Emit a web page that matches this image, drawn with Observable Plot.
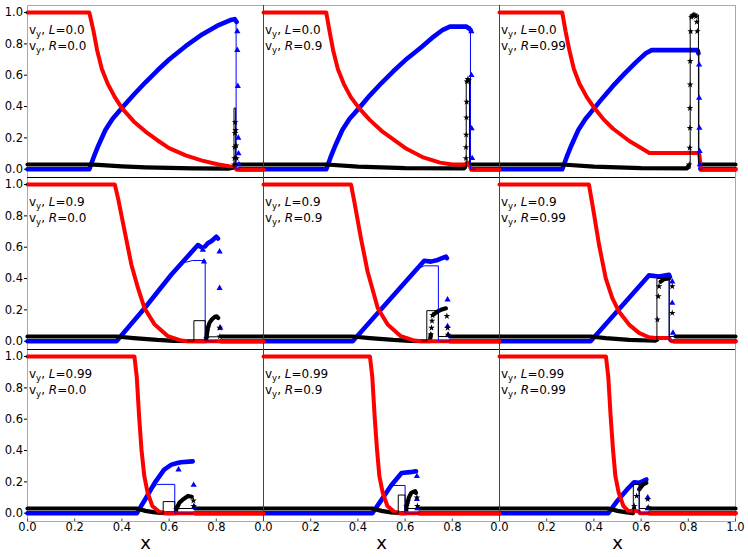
<!DOCTYPE html>
<html><head><meta charset="utf-8">
<script src="https://cdn.jsdelivr.net/npm/d3@7"></script>
<script src="https://cdn.jsdelivr.net/npm/@observablehq/plot@0.6"></script>
<style>body{margin:0;background:#fff}</style>
</head><body><div id="chart"></div>
<script>
// rows: left state v_y ; columns: right state v_y
const leftVy = ["0.0", "0.9", "0.99"];
const rightVy = ["0.0", "0.9", "0.99"];
const xTicks = [0, 0.2, 0.4, 0.6, 0.8, 1.0];
const yTicks = [0, 0.2, 0.4, 0.6, 0.8, 1.0];

// panel order: p = row*3 + col ; NaN breaks a line
const redCurve = [
  [[0,1],[0.262,1],[0.28,0.88],[0.295,0.76],[0.315,0.64],[0.34,0.545],[0.37,0.46],[0.40,0.39],[0.45,0.305],[0.50,0.24],[0.55,0.185],[0.60,0.135],[0.67,0.088],[0.74,0.055],[0.81,0.03],[0.865,0.016],[0.878,0.012],[0.886,-0.004],[1,-0.004]],
  [[0,1],[0.266,1],[0.28,0.88],[0.295,0.76],[0.315,0.64],[0.34,0.545],[0.37,0.46],[0.405,0.39],[0.45,0.315],[0.50,0.245],[0.55,0.19],[0.606,0.13],[0.677,0.075],[0.748,0.042],[0.80,0.03],[0.853,0.03],[0.865,0.042],[0.874,0.02],[0.881,-0.004],[1,-0.004]],
  [[0,1],[0.266,1],[0.28,0.88],[0.296,0.76],[0.315,0.64],[0.339,0.545],[0.37,0.46],[0.402,0.39],[0.44,0.32],[0.48,0.26],[0.55,0.18],[0.60,0.135],[0.635,0.104],[0.846,0.104],[0.85,0.05],[0.853,-0.004],[1,-0.004]],
  [[0,1],[0.37,1],[0.384,0.91],[0.412,0.70],[0.44,0.49],[0.468,0.34],[0.496,0.21],[0.539,0.106],[0.595,0.032],[0.652,0.004],[0.68,0],[1,0]],
  [[0,1],[0.371,1],[0.385,0.89],[0.413,0.657],[0.441,0.445],[0.484,0.212],[0.526,0.106],[0.582,0.032],[0.639,0.004],[0.667,0],[1,0]],
  [[0,1],[0.379,1],[0.394,0.87],[0.422,0.614],[0.45,0.403],[0.478,0.275],[0.506,0.19],[0.549,0.106],[0.591,0.053],[0.633,0.025],[0.66,0.021],[0.718,0.021],[0.725,0.005],[0.729,0],[1,0]],
  [[0,1],[0.453,1],[0.463,0.87],[0.473,0.616],[0.483,0.405],[0.495,0.236],[0.509,0.131],[0.529,0.046],[0.559,0.008],[0.59,0],[1,0]],
  [[0,1],[0.451,1],[0.461,0.87],[0.471,0.616],[0.481,0.405],[0.491,0.236],[0.505,0.131],[0.525,0.046],[0.555,0.008],[0.585,0],[1,0]],
  [[0,1],[0.451,1],[0.461,0.87],[0.471,0.616],[0.481,0.405],[0.491,0.236],[0.505,0.131],[0.525,0.046],[0.545,0.015],[0.59,0.012],[0.595,0],[1,0]]
];

const blueCurve = [
  [[0,0],[0.262,0],[0.28,0.075],[0.30,0.15],[0.33,0.25],[0.36,0.32],[0.40,0.39],[0.45,0.475],[0.50,0.555],[0.55,0.63],[0.60,0.70],[0.67,0.785],[0.74,0.86],[0.81,0.92],[0.86,0.952],[0.878,0.958],[0.886,0.94],[0.888,NaN],[0.897,0],[1,0]],
  [[0,0],[0.266,0],[0.284,0.075],[0.304,0.15],[0.334,0.25],[0.364,0.32],[0.405,0.39],[0.45,0.47],[0.50,0.55],[0.55,0.625],[0.60,0.695],[0.67,0.78],[0.72,0.845],[0.76,0.89],[0.79,0.91],[0.86,0.91],[0.877,0.89],[0.879,NaN],[0.886,0],[1,0]],
  [[0,0],[0.266,0],[0.284,0.075],[0.304,0.15],[0.334,0.25],[0.364,0.32],[0.402,0.39],[0.44,0.46],[0.48,0.53],[0.53,0.61],[0.58,0.685],[0.62,0.74],[0.645,0.76],[0.839,0.76],[0.843,0.74],[0.845,NaN],[0.852,0],[1,0]],
  [[0,0],[0.377,0],[0.496,0.21],[0.609,0.424],[0.722,0.614],[0.737,0.60],[0.74,NaN],[0.752,0.605],[0.764,0.625],[0.78,0.64],[0.80,0.667],[0.807,0.655],[0.81,NaN],[0.82,0],[1,0]],
  [[0,0],[0.378,0],[0.681,0.513],[0.709,0.508],[0.738,0.519],[0.773,0.54],[0.777,0.53],[0.779,NaN],[0.79,0],[1,0]],
  [[0,0],[0.386,0],[0.633,0.42],[0.676,0.413],[0.718,0.424],[0.722,0.41],[0.724,NaN],[0.74,0],[1,0]],
  [[0,0],[0.463,0],[0.499,0.089],[0.539,0.194],[0.579,0.278],[0.61,0.31],[0.635,0.32],[0.65,0.325],[0.70,0.331],[0.702,NaN],[0.71,0],[1,0]],
  [[0,0],[0.461,0],[0.50,0.085],[0.54,0.175],[0.585,0.257],[0.62,0.262],[0.646,0.268],[0.648,NaN],[0.66,0],[1,0]],
  [[0,0],[0.461,0],[0.50,0.08],[0.54,0.15],[0.571,0.198],[0.592,0.194],[0.622,0.215],[0.625,NaN],[0.635,0],[1,0]]
];

const blackCurve = [
  [[0,0.03],[0.262,0.03],[0.30,0.027],[0.40,0.018],[0.50,0.012],[0.60,0.008],[0.70,0.005],[0.85,0.004],[0.872,0.01],[0.874,NaN],[0.89,0.03],[1,0.03]],
  [[0,0.03],[0.266,0.03],[0.40,0.016],[0.60,0.007],[0.85,0.005],[0.856,0.02],[0.857,NaN],[0.88,0.03],[1,0.03]],
  [[0,0.03],[0.266,0.03],[0.40,0.016],[0.60,0.007],[0.795,0.005],[0.80,0.02],[0.802,NaN],[0.85,0.03],[1,0.03]],
  [[0,0.03],[0.377,0.03],[0.45,0.02],[0.55,0.008],[0.62,0.002],[0.755,0],[0.758,0.02],[0.764,0.085],[0.771,0.117],[0.781,0.138],[0.793,0.155],[0.801,0.159],[0.808,0.148],[0.81,NaN],[0.82,0.03],[1,0.03]],
  [[0,0.03],[0.378,0.03],[0.45,0.02],[0.55,0.008],[0.62,0.002],[0.705,0],[0.709,0.042],[0.71,NaN],[0.72,0.17],[0.738,0.19],[0.752,0.20],[0.773,0.21],[0.775,NaN],[0.79,0.03],[1,0.03]],
  [[0,0.03],[0.386,0.03],[0.45,0.02],[0.55,0.008],[0.66,0.003],[0.668,0.01],[0.67,NaN],[0.683,0.38],[0.697,0.396],[0.718,0.40],[0.72,NaN],[0.746,0.03],[1,0.03]],
  [[0,0.03],[0.463,0.03],[0.50,0.015],[0.54,0.005],[0.58,0],[0.628,0],[0.63,0.025],[0.644,0.068],[0.66,0.089],[0.68,0.11],[0.696,0.105],[0.70,NaN],[0.71,0.03],[1,0.03]],
  [[0,0.03],[0.461,0.03],[0.50,0.015],[0.54,0.005],[0.58,0],[0.604,0],[0.606,0.046],[0.616,0.10],[0.626,0.13],[0.642,0.141],[0.646,0.13],[0.648,NaN],[0.66,0.03],[1,0.03]],
  [[0,0.03],[0.461,0.03],[0.50,0.015],[0.54,0.005],[0.565,0],[0.57,0.03],[0.572,NaN],[0.592,0.152],[0.608,0.184],[0.622,0.194],[0.624,NaN],[0.635,0.03],[1,0.03]]
];

const blueExact = [
  [[0.86,0.955],[0.884,0.96],[0.884,0],[0.9,0]],
  [[0.86,0.91],[0.877,0.91],[0.877,0],[0.9,0]],
  [[0.83,0.76],[0.845,0.76],[0.845,0],[0.86,0]],
  [[0.66,0.50],[0.70,0.515],[0.753,0.515],[0.753,0],[0.8,0]],
  [[0.65,0.46],[0.681,0.481],[0.741,0.481],[0.741,0],[0.79,0]],
  [[0.64,0.41],[0.719,0.41],[0.719,0],[0.74,0]],
  [[0.52,0.14],[0.549,0.184],[0.624,0.184],[0.624,0],[0.7,0]],
  [[0.53,0.15],[0.545,0.177],[0.60,0.177],[0.60,0],[0.66,0]],
  [[0.565,0.19],[0.592,0.19],[0.592,0],[0.635,0]]
];

const blackExact = [
  [[0.86,0.004],[0.875,0.004],[0.875,0.39],[0.882,0.39],[0.882,0.03],[0.9,0.03]],
  [[0.85,0.005],[0.859,0.005],[0.859,0.57],[0.873,0.57],[0.873,0.03],[0.9,0.03]],
  [[0.79,0.005],[0.808,0.005],[0.808,0.985],[0.843,0.985],[0.843,0.03],[0.86,0.03]],
  [[0.68,0],[0.705,0],[0.705,0.131],[0.753,0.131],[0.753,0.028],[0.82,0.028]],
  [[0.67,0],[0.692,0],[0.692,0.195],[0.741,0.195],[0.741,0.03],[0.79,0.03]],
  [[0.65,0.003],[0.667,0.003],[0.667,0.40],[0.719,0.40],[0.719,0.03],[0.746,0.03]],
  [[0.56,0],[0.575,0],[0.575,0.074],[0.624,0.074],[0.624,0.03],[0.71,0.03]],
  [[0.55,0],[0.571,0],[0.571,0.116],[0.60,0.116],[0.60,0.03],[0.66,0.03]],
  [[0.55,0],[0.567,0],[0.567,0.184],[0.592,0.184],[0.592,0.03],[0.635,0.03]]
];

const blueMarks = [
  [[0.889,0.88],[0.889,0.76],[0.891,0.53],[0.893,0.2],[0.894,0.1],[0.896,0.03]],
  [[0.881,0.88],[0.881,0.60],[0.882,0.26],[0.884,0.07]],
  [[0.846,0.667],[0.846,0.454],[0.847,0.263],[0.848,0.115],[0.849,0.03]],
  [[0.743,0.583],[0.748,0.508],[0.814,0.572],[0.814,0.339],[0.817,0.085]],
  [[0.78,0.265],[0.78,0.095],[0.782,0.04]],
  [[0.732,0.38],[0.732,0.244],[0.735,0.053]],
  [[0.64,0.278],[0.704,0.18],[0.706,0.04]],
  [[0.65,0.236],[0.65,0.089],[0.652,0.03]],
  [[0.628,0.1],[0.628,0.03]]
];

const blackMarks = [
  [[0.876,0.03],[0.877,0.07],[0.878,0.14],[0.879,0.23],[0.88,0.30],[0.882,0.25],[0.884,0.15],[0.886,0.07]],
  [[0.858,0.07],[0.858,0.14],[0.859,0.22],[0.86,0.33],[0.861,0.43],[0.862,0.56],[0.866,0.575],[0.87,0.565]],
  [[0.804,0.03],[0.806,0.136],[0.807,0.263],[0.807,0.39],[0.808,0.54],[0.808,0.69],[0.81,0.88],[0.813,0.97],[0.818,0.98],[0.823,0.985],[0.828,0.985],[0.833,0.975],[0.836,0.94],[0.838,0.88]],
  [[0.758,0.02],[0.764,0.085],[0.814,0.085],[0.815,0.03]],
  [[0.709,0.042],[0.712,0.085],[0.714,0.13],[0.716,0.165],[0.777,0.16],[0.78,0.085],[0.782,0.04]],
  [[0.669,0.138],[0.673,0.286],[0.676,0.35],[0.732,0.35],[0.732,0.18]],
  [[0.63,0.025],[0.635,0.04],[0.704,0.046],[0.703,0.08]],
  [[0.606,0.046],[0.611,0.075],[0.65,0.10],[0.652,0.046]],
  [[0.571,0.046],[0.581,0.11],[0.628,0.089],[0.632,0.036]]
];

// ---- build tables ----
function flat(arr) {
  const out = [];
  arr.forEach((pts, p) => pts.forEach(([x, y]) => out.push({x, y, p, col: p % 3, row: Math.floor(p / 3)})));
  return out;
}
const panels = [];
for (let r = 0; r < 3; r++) for (let c = 0; c < 3; c++) panels.push({row: r, col: c, L: leftVy[r], R: rightVy[c]});
const xTickRows = [];
[0, 1, 2].forEach(c => xTicks.forEach(v => { if (c < 2 && v === 1) return; xTickRows.push({col: c, row: 2, v}); }));
const xLabelRows = [0, 1, 2].map(c => ({col: c, row: 2}));

const Y0 = -0.053, Y1 = 1.045;
const common = {x: "x", y: "y", fx: "col", fy: "row", z: "p"};

const chart = Plot.plot({
  width: 748, height: 557,
  marginLeft: 26, marginRight: 13, marginTop: 4, marginBottom: 36,
  style: {fontFamily: "DejaVu Sans", fontSize: "11px", background: "#fff", color: "#000"},
  x: {domain: [0, 1], axis: null},
  y: {domain: [Y0, Y1], label: null},
  fx: {domain: [0, 1, 2], padding: 0, axis: null},
  fy: {domain: [0, 1, 2], padding: 0, axis: null},
  marks: [
    Plot.frame({stroke: "#aaa"}),
    Plot.line(flat(blueCurve), {...common, stroke: "#0000ff", strokeWidth: 4.6, strokeLinejoin: "round"}),
    Plot.line(flat(blackCurve), {...common, stroke: "#000", strokeWidth: 4.2, strokeLinejoin: "round"}),
    Plot.line(flat(redCurve), {...common, stroke: "#ff0000", strokeWidth: 4, strokeLinejoin: "round"}),
    Plot.line(flat(blueExact), {...common, stroke: "#0000ff", strokeWidth: 1}),
    Plot.line(flat(blackExact), {...common, stroke: "#000", strokeWidth: 1}),
    Plot.dot(flat(blueMarks), {x: "x", y: "y", fx: "col", fy: "row", symbol: "triangle", fill: "#0000ff", r: 2.3}),
    Plot.dot(flat(blackMarks), {x: "x", y: "y", fx: "col", fy: "row", symbol: "star", fill: "#000", r: 2.1}),
    Plot.ruleY([1, 2], {y: () => Y1, fy: d => d, stroke: "#000"}),
    Plot.ruleX([1, 2], {x: () => 0, fx: d => d, stroke: "#444"}),
    Plot.axisY(yTicks, {tickFormat: d3.format(".1f"), tickSize: 3, tickPadding: 1.5, fontSize: 11.5, label: null}),
    Plot.ruleX(xTickRows, {x: "v", fx: "col", fy: "row", y1: Y0, y2: Y0 + 0.016, stroke: "#444"}),
    Plot.text(xTickRows, {x: "v", fx: "col", fy: "row", text: d => d.v.toFixed(1), frameAnchor: "bottom", dy: 9, fontSize: 11.5}),
    Plot.text(xLabelRows, {fx: "col", fy: "row", text: () => "x", frameAnchor: "bottom", dy: 27, fontSize: 18}),
    Plot.text(panels, {fx: "col", fy: "row", text: d => "v_y, L=" + d.L, frameAnchor: "top-left", textAnchor: "start", dx: 1.5, dy: 20, fontSize: 12}),
    Plot.text(panels, {fx: "col", fy: "row", text: d => "v_y, R=" + d.R, frameAnchor: "top-left", textAnchor: "start", dx: 1.5, dy: 36, fontSize: 12})
  ]
});

// rich text: subscript y and italic L / R
d3.select(chart).selectAll("text").each(function () {
  const m = /^v_y, ([LR])=(.*)$/.exec(this.textContent);
  if (!m) return;
  const t = d3.select(this);
  t.text("");
  t.append("tspan").text("v");
  t.append("tspan").attr("font-size", "8.5px").attr("dy", 2.5).text("y");
  t.append("tspan").attr("dy", -2.5).text(", ");
  t.append("tspan").attr("font-style", "italic").text(m[1]);
  t.append("tspan").text("=" + m[2]);
});

document.getElementById("chart").appendChild(chart);
</script>
</body></html>
